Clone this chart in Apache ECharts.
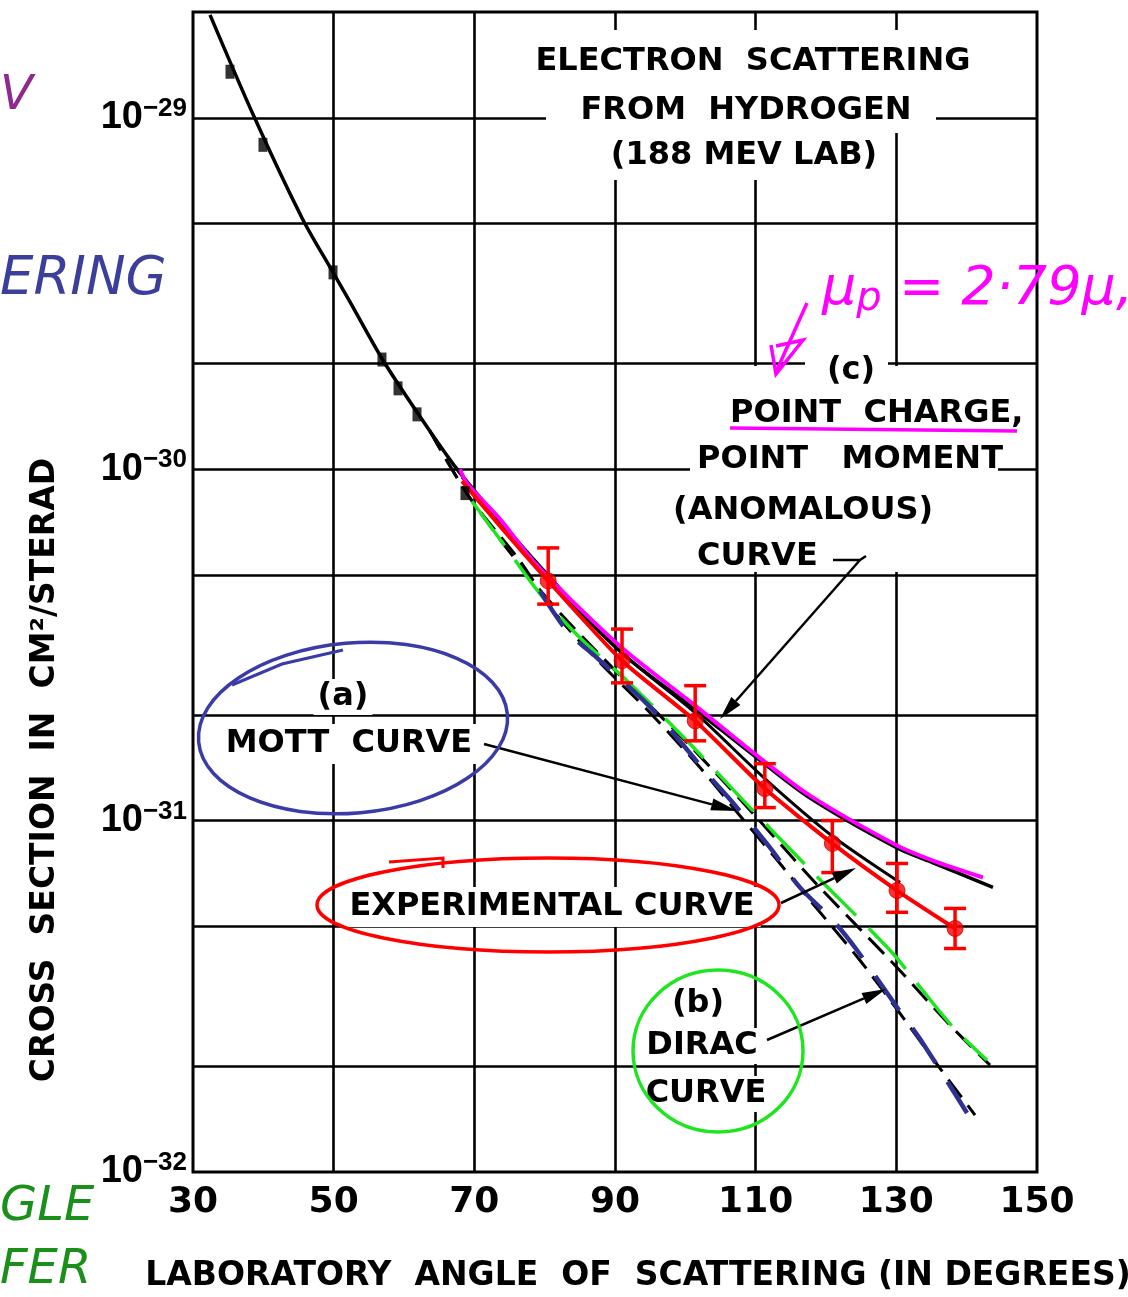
<!DOCTYPE html>
<html><head><meta charset="utf-8">
<script src="https://cdn.jsdelivr.net/npm/echarts@6.0.0/dist/echarts.min.js"></script>
<style>html,body{margin:0;padding:0;background:#fff;}#chart{width:1128px;height:1297px;}</style>
</head><body><div id="chart"></div>
<script>
// ---------- axis / grid values ----------
// cross sections are plotted in units of 1e-32 cm^2/sr (log axis cannot handle 1e-32 directly)
const UNIT_EXP = -32;
const xMin = 30, xMax = 150;
const xLabelAngles = [30, 50, 70, 90, 110, 130, 150];
const xGridAngles = [50, 70, 90, 110, 130];
const yMinLog = -32, yMaxLog = -28.699;
const yGridLogs = [-31.699, -31.301, -31, -30.699, -30.301, -30, -29.699, -29.301, -29];

// ---------- curves: [angle (deg), log10(cross section in cm^2/sr)] ----------
const anomalousCurve = [[32.42,-28.707],[38.82,-29.003],[45.50,-29.285],[49.91,-29.440],[52.32,-29.524],[57.01,-29.690],[62.27,-29.850],[67.54,-30.0],[73.65,-30.148],[80.47,-30.310],[91.14,-30.526],[101.09,-30.679],[110.19,-30.822],[117.73,-30.936],[130.10,-31.078],[135.21,-31.120],[143.74,-31.190]];
const anomalousTrace = [[67.96,-30.0],[68.96,-30.040],[73.65,-30.142],[78.34,-30.261],[83.18,-30.361],[91.14,-30.511],[101.09,-30.668],[110.19,-30.815],[117.73,-30.929],[130.10,-31.071],[135.21,-31.114],[142.32,-31.162]];
const experimentalCurve = [[68.25,-30.023],[80.47,-30.301],[90.99,-30.523],[101.37,-30.693],[111.33,-30.881],[120.85,-31.043],[130.52,-31.176]];
const experimentalTrace = [[68.25,-30.034],[74.0,-30.17],[80.5,-30.318],[91.0,-30.545],[101.4,-30.716],[111.3,-30.909],[120.9,-31.065],[130.1,-31.199],[138.35,-31.307]];
const mottCurve = [[63.70,-29.892],[69.38,-30.082],[76.49,-30.261],[81.47,-30.409],[87.87,-30.551],[94.98,-30.693],[102.09,-30.849],[107.77,-30.986],[112.75,-31.105],[117.73,-31.227],[124.84,-31.398],[131.23,-31.568],[136.21,-31.705],[141.19,-31.838]];
const mottTrace = [[79.34,-30.347],[83.18,-30.460],[87.44,-30.537],[94.55,-30.668],[98.82,-30.764],[103.08,-30.866],[107.35,-30.963],[112.04,-31.077],[116.30,-31.190],[121.0,-31.284],[124.41,-31.369],[130.10,-31.531],[133.79,-31.634],[140.05,-31.832]];
const diracCurve = [[63.70,-29.892],[69.38,-30.082],[80.05,-30.361],[92.13,-30.616],[100.66,-30.787],[109.91,-30.986],[118.44,-31.176],[129.53,-31.406],[137.63,-31.582],[143.32,-31.696]];
const diracTrace = [[69.67,-30.091],[74.36,-30.219],[79.34,-30.355],[85.02,-30.480],[91.71,-30.602],[100.24,-30.773],[109.20,-30.963],[118.15,-31.148],[129.10,-31.369],[133.37,-31.474],[138.06,-31.588],[142.89,-31.682]];

// ---------- measured points ----------
const lowAnglePoints = [[35.26,-28.869],[39.95,-29.077],[49.91,-29.440],[56.87,-29.688],[59.15,-29.770],[61.85,-29.844],[68.67,-30.068]];
const expAngles  = [80.5, 91.0, 101.4, 111.3, 120.9, 130.1, 138.35];
const expLog     = [-30.318, -30.545, -30.716, -30.909, -31.065, -31.199, -31.307];
const expLogHigh = [-30.224, -30.455, -30.616, -30.838, -31.0, -31.122, -31.25];
const expLogLow  = [-30.384, -30.608, -30.773, -30.963, -31.148, -31.261, -31.364];

const u = l => Math.pow(10, l - UNIT_EXP);
const toUnits = arr => arr.map(p => [p[0], u(p[1])]);

const FONT = '"DejaVu Sans", "Liberation Sans", sans-serif';
const HAND = '"DejaVu Sans", "Noto Sans", sans-serif';
const RED = '#ff0000', MAGENTA = '#ff00ff', GREEN = '#1ee61e', NAVY = '#2e3192';

function txt(text, x, y, opt) {
  opt = opt || {};
  return {
    type: 'text', x: x, y: y, z: 11, rotation: opt.rotation || 0,
    style: {
      text: text, fill: opt.color || '#000', fontFamily: opt.family || FONT,
      fontSize: opt.size || 32, fontWeight: opt.weight || 'bold', fontStyle: opt.style || 'normal',
      align: opt.align || 'center', verticalAlign: 'middle',
      backgroundColor: opt.bg === undefined ? '#fff' : opt.bg,
      padding: opt.pad || [3, 5]
    }
  };
}
function rect(x, y, w, h) {
  return { type: 'rect', z: 2, shape: { x: x, y: y, width: w, height: h }, style: { fill: '#fff' } };
}
function arrow(x1, y1, x2, y2, color, len, wid) {
  const a = Math.atan2(y2 - y1, x2 - x1);
  const bx = x2 - len * Math.cos(a), by = y2 - len * Math.sin(a);
  const px = -Math.sin(a) * wid, py = Math.cos(a) * wid;
  return [
    { type: 'line', z: 10, shape: { x1: x1, y1: y1, x2: bx, y2: by }, style: { stroke: color, lineWidth: 2.5 } },
    { type: 'polygon', z: 10, shape: { points: [[x2, y2], [bx + px, by + py], [bx - px, by - py]] }, style: { fill: color } }
  ];
}
function ellipse(cx, cy, rx, ry, rot, color) {
  return { type: 'ellipse', z: 12, x: cx, y: cy, rotation: rot, shape: { cx: 0, cy: 0, rx: rx, ry: ry },
    style: { fill: 'none', stroke: color, lineWidth: 3.5 } };
}

const graphics = [
  rect(520, 30, 470, 58), rect(546, 88, 390, 45), rect(595, 133, 295, 47),
  txt('ELECTRON  SCATTERING', 753, 62, { bg: null }),
  txt('FROM  HYDROGEN', 746, 111, { bg: null }),
  txt('(188 MEV LAB)', 744, 156, { bg: null }),
  rect(805, 350, 83, 40), rect(690, 366, 308, 206),
  txt('(c)', 851, 371, { bg: null }),
  txt('POINT  CHARGE,', 730, 414, { align: 'left', bg: null, pad: [0, 0] }),
  txt('POINT   MOMENT', 697, 460, { align: 'left', bg: null, pad: [0, 0] }),
  txt('(ANOMALOUS)', 670, 511, { align: 'left', pad: [3, 3] }),
  txt('CURVE', 697, 557, { align: 'left', bg: null, pad: [0, 0] }),
  { type: 'line', z: 10, shape: { x1: 730, y1: 428, x2: 1017, y2: 431 }, style: { stroke: MAGENTA, lineWidth: 3.5 } },
  { type: 'polyline', z: 10, shape: { points: [[833, 560], [860, 560], [866, 556]] }, style: { stroke: '#000', lineWidth: 2.5, fill: 'none' } },
  ...arrow(860, 560, 720, 719, '#000', 24, 6),
  txt('(a)', 343, 697, { pad: [2, 4] }),
  txt('MOTT  CURVE', 349, 744, { pad: [4, 6] }),
  ellipse(353, 728, 155, 85, 0.09, '#3a3aa8'),
  { type: 'polyline', z: 12, shape: { points: [[232, 685], [282, 664], [343, 650]] }, style: { stroke: '#3a3aa8', lineWidth: 3, fill: 'none' } },
  ...arrow(484, 744, 737, 811, '#000', 26, 6),
  txt('EXPERIMENTAL CURVE', 552, 907, { pad: [4, 6] }),
  ellipse(548, 905, 231, 47, 0, RED),
  { type: 'polyline', z: 12, shape: { points: [[389, 862], [443, 858], [443, 868]] }, style: { stroke: RED, lineWidth: 3, fill: 'none' } },
  ...arrow(781, 903, 856, 868, '#000', 24, 6),
  txt('(b)', 698, 1004, { pad: [2, 4] }),
  txt('DIRAC', 702, 1046, { pad: [2, 2] }),
  txt('CURVE', 706, 1094, { pad: [2, 2] }),
  ellipse(718, 1051, 85, 81, 0, GREEN),
  ...arrow(767, 1040, 886, 989, '#000', 24, 6),
  {
    type: 'text', x: 822, y: 290, z: 12,
    style: {
      text: '{m|μ}{p|p}{m| = 2·79μ,}', align: 'left', verticalAlign: 'middle',
      rich: {
        m: { fontFamily: HAND, fontSize: 54, fontStyle: 'italic', fill: MAGENTA, lineHeight: 60 },
        p: { fontFamily: HAND, fontSize: 40, fontStyle: 'italic', fill: MAGENTA, verticalAlign: 'bottom', lineHeight: 40 }
      }
    }
  },
  { type: 'line', z: 12, shape: { x1: 807, y1: 303, x2: 776, y2: 372 }, style: { stroke: MAGENTA, lineWidth: 3.5 } },
  { type: 'polyline', z: 12, shape: { points: [[771, 345], [776, 374], [803, 340], [776, 346]] }, style: { stroke: MAGENTA, lineWidth: 3.5, fill: 'none' } },
  txt('CROSS  SECTION  IN  CM²/STERAD', 45, 770, { rotation: Math.PI / 2, size: 33, bg: null }),
  txt('LABORATORY  ANGLE  OF  SCATTERING (IN DEGREES)', 638, 1276, { size: 33, bg: null }),
  txt('V', 0, 97, { align: 'left', size: 48, weight: 'normal', style: 'italic', color: '#8e2a8e', bg: null, pad: [0, 0], family: HAND }),
  txt('ERING', 0, 280, { align: 'left', size: 53, weight: 'normal', style: 'italic', color: '#3b3f9b', bg: null, pad: [0, 0], family: HAND }),
  txt('GLE', 0, 1208, { align: 'left', size: 48, weight: 'normal', style: 'italic', color: '#1a8f1a', bg: null, pad: [0, 0], family: HAND }),
  txt('FER', 0, 1271, { align: 'left', size: 48, weight: 'normal', style: 'italic', color: '#1a8f1a', bg: null, pad: [0, 0], family: HAND })
];

const lineBase = { type: 'line', smooth: 0.3, symbol: 'none', silent: true };

const chart = echarts.init(document.getElementById('chart'), null, { renderer: 'canvas' });
chart.setOption({
  animation: false,
  backgroundColor: '#fff',
  grid: { left: 193, right: 91, top: 12, bottom: 125, show: true, borderColor: '#000', borderWidth: 3, backgroundColor: 'transparent' },
  xAxis: {
    type: 'value', min: xMin, max: xMax, interval: 10,
    axisLine: { show: false }, axisTick: { show: false }, splitLine: { show: false },
    axisLabel: {
      margin: 13, color: '#000', fontFamily: FONT, fontWeight: 'bold', fontSize: 36,
      formatter: v => (xLabelAngles.indexOf(v) >= 0 ? String(v) : '')
    }
  },
  yAxis: {
    type: 'log', logBase: 10, min: u(yMinLog), max: u(yMaxLog),
    axisLine: { show: false }, axisTick: { show: false }, splitLine: { show: false },
    axisLabel: {
      margin: 6, showMaxLabel: false,
      formatter: v => {
        const l = Math.log10(v), e = Math.round(l);
        if (Math.abs(l - e) > 1e-4) return '';
        return '{b|10}{s|−' + Math.abs(e + UNIT_EXP) + '}';
      },
      rich: {
        b: { fontFamily: '"Liberation Sans", sans-serif', fontWeight: 'bold', fontSize: 38, color: '#000', lineHeight: 44 },
        s: { fontFamily: '"Liberation Sans", sans-serif', fontWeight: 'bold', fontSize: 26, color: '#000', verticalAlign: 'top', lineHeight: 26 }
      }
    }
  },
  graphic: { elements: graphics },
  series: [
    {
      type: 'line', data: [[30, 10]], symbol: 'none', z: 1, silent: true, lineStyle: { opacity: 0 },
      markLine: {
        z: 1, silent: true, symbol: 'none', label: { show: false },
        lineStyle: { color: '#000', width: 2.6, type: 'solid' },
        data: xGridAngles.map(a => ({ xAxis: a })).concat(yGridLogs.map(l => ({ yAxis: u(l) })))
      }
    },
    Object.assign({}, lineBase, { name: 'Mott', data: toUnits(mottCurve), z: 3,
      lineStyle: { color: '#000', width: 3, type: [22, 10] } }),
    Object.assign({}, lineBase, { name: 'Dirac', data: toUnits(diracCurve), z: 3,
      lineStyle: { color: '#000', width: 3, type: [22, 10] } }),
    Object.assign({}, lineBase, { name: 'Dirac trace', data: toUnits(diracTrace), z: 4,
      lineStyle: { color: GREEN, width: 3.5, type: [55, 18] } }),
    Object.assign({}, lineBase, { name: 'Mott trace', data: toUnits(mottTrace), z: 4,
      lineStyle: { color: NAVY, width: 4.5, type: [42, 22] } }),
    Object.assign({}, lineBase, { name: 'Anomalous', data: toUnits(anomalousCurve), z: 5,
      lineStyle: { color: '#000', width: 3.5 } }),
    Object.assign({}, lineBase, { name: 'Experimental', data: toUnits(experimentalCurve), z: 5,
      lineStyle: { color: '#000', width: 3 } }),
    Object.assign({}, lineBase, { name: 'Anomalous trace', data: toUnits(anomalousTrace), z: 6,
      lineStyle: { color: MAGENTA, width: 4 } }),
    Object.assign({}, lineBase, { name: 'Experimental trace', data: toUnits(experimentalTrace), z: 7, smooth: 0.2,
      lineStyle: { color: RED, width: 4 } }),
    { name: 'Low-angle data', type: 'scatter', data: toUnits(lowAnglePoints), symbol: 'rect', symbolSize: [9, 14], z: 8,
      itemStyle: { color: '#000' } },
    { name: 'Error bars', type: 'custom', z: 8,
      data: expAngles.map((a, i) => [a, u(expLogLow[i]), u(expLogHigh[i])]),
      encode: { x: 0, y: [1, 2] },
      renderItem: function (params, api) {
        const lo = api.coord([api.value(0), api.value(1)]);
        const hi = api.coord([api.value(0), api.value(2)]);
        const w = 11, st = { stroke: RED, lineWidth: 3.5 };
        return { type: 'group', children: [
          { type: 'line', shape: { x1: lo[0], y1: lo[1], x2: hi[0], y2: hi[1] }, style: st },
          { type: 'line', shape: { x1: lo[0] - w, y1: lo[1], x2: lo[0] + w, y2: lo[1] }, style: st },
          { type: 'line', shape: { x1: hi[0] - w, y1: hi[1], x2: hi[0] + w, y2: hi[1] }, style: st }
        ] };
      }
    },
    { name: 'Experimental points', type: 'scatter', z: 9, symbol: 'circle', symbolSize: 16,
      data: expAngles.map((a, i) => [a, u(expLog[i])]),
      itemStyle: { color: RED, borderColor: '#c00000', borderWidth: 1 } }
  ]
});
</script>
</body></html>
